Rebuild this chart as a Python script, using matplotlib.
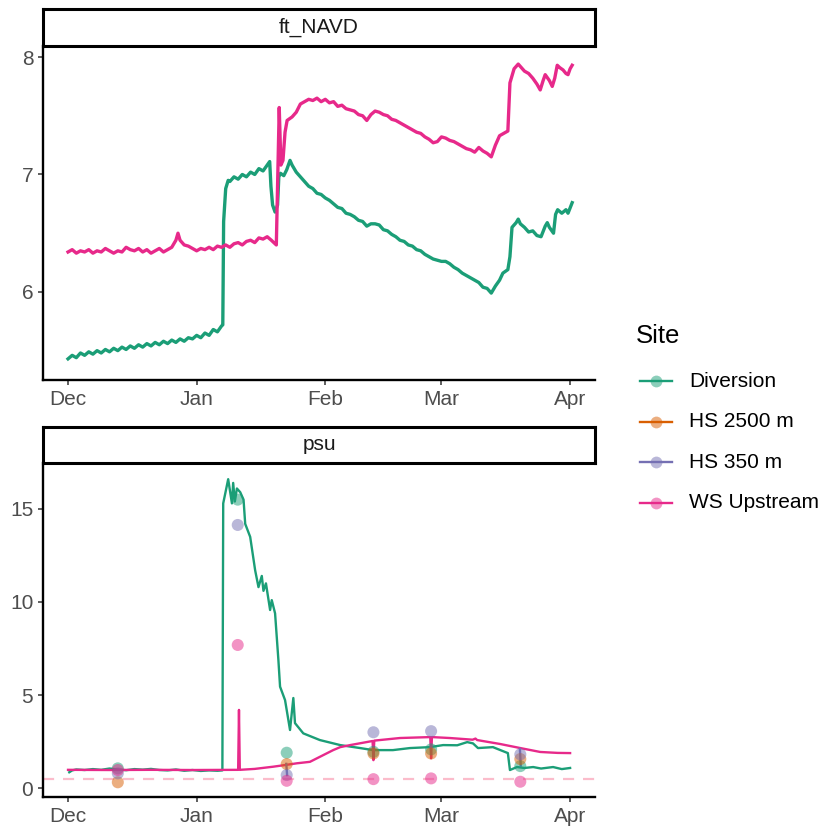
import numpy as np
import pandas as pd
import matplotlib
matplotlib.use('Agg')
import matplotlib.pyplot as plt
import matplotlib.dates as mdates
from matplotlib.lines import Line2D

plt.rcParams['font.family'] = ['Liberation Sans', 'DejaVu Sans']

start = pd.Timestamp('2021-12-01')

# ---- ft_NAVD, Diversion (days since Dec 1, value)
div_ft_day = [0, 1, 2, 3, 4, 5, 6, 7, 8, 9, 10, 11, 12, 13, 14, 15, 16, 17, 18, 19, 20,
              21, 22, 23, 24, 25, 26, 27, 28, 29, 30, 31, 32, 33, 34, 35, 36, 37, 37.3,
              37.5, 38, 38.6, 39, 40, 41, 42, 43, 44, 45, 46, 47, 48, 48.6, 48.9, 49.3,
              49.9, 50.5, 50.8, 51.2, 52, 52.7, 53.5, 54, 55, 56, 57, 58, 59, 60, 61, 62,
              63, 64, 65, 66, 67, 68, 69, 70, 71, 72, 73, 74, 75, 76, 77, 78, 79, 80, 81,
              82, 83, 84, 85, 86, 87, 88, 89, 90, 91, 92, 93, 94, 95, 96, 97, 98, 99, 100,
              101, 102, 103, 104, 104.8, 106, 106.5, 107, 108, 108.5, 109, 110, 111, 112,
              113, 114, 115, 115.5, 116, 117, 117.5, 118, 119, 120, 120.5, 121.5]
div_ft_val = [5.43, 5.46, 5.44, 5.48, 5.46, 5.49, 5.47, 5.50, 5.48, 5.51, 5.49, 5.52, 5.50,
              5.53, 5.51, 5.54, 5.52, 5.55, 5.53, 5.56, 5.54, 5.57, 5.55, 5.58, 5.56, 5.59,
              5.57, 5.60, 5.58, 5.61, 5.60, 5.63, 5.61, 5.65, 5.63, 5.68, 5.66, 5.71, 5.72,
              6.60, 6.88, 6.95, 6.94, 6.98, 6.96, 7.00, 6.98, 7.02, 7.00, 7.05, 7.03, 7.08,
              7.11, 6.90, 6.74, 6.68, 6.74, 6.98, 7.01, 6.99, 7.04, 7.12, 7.08, 7.02, 6.98,
              6.94, 6.90, 6.88, 6.84, 6.83, 6.80, 6.78, 6.75, 6.72, 6.71, 6.67, 6.66, 6.64,
              6.61, 6.60, 6.56, 6.58, 6.58, 6.57, 6.53, 6.52, 6.49, 6.47, 6.44, 6.43, 6.40,
              6.39, 6.36, 6.35, 6.32, 6.30, 6.28, 6.27, 6.26, 6.26, 6.24, 6.21, 6.19, 6.16,
              6.14, 6.12, 6.10, 6.08, 6.04, 6.03, 5.99, 6.05, 6.10, 6.16, 6.19, 6.30, 6.55,
              6.59, 6.62, 6.58, 6.55, 6.51, 6.52, 6.48, 6.47, 6.56, 6.59, 6.55, 6.50, 6.66,
              6.70, 6.67, 6.70, 6.67, 6.76]

# ---- ft_NAVD, WS Upstream
ws_ft_day = [0, 1, 2, 3, 4, 5, 6, 7, 8, 9, 10, 11, 12, 13, 14, 15, 16, 17, 18, 19, 20, 21,
             22, 23, 24, 25, 26, 26.5, 27, 28, 29, 30, 31, 32, 33, 34, 35, 36, 37, 38, 39,
             40, 41, 42, 43, 44, 45, 46, 47, 48, 49, 50.2, 50.6, 50.9, 51.3, 51.8, 52.3,
             52.8, 54, 55, 56, 57, 58, 59, 60, 61, 62, 63, 64, 65, 66, 67, 68, 69, 70, 71,
             72, 73, 74, 75, 76, 77, 78, 79, 80, 81, 82, 83, 84, 85, 86, 87, 88, 89, 90, 91,
             92, 93, 94, 95, 96, 97, 98, 99, 100, 101, 102, 103, 104, 105, 106, 106.5,
             107.5, 108.5, 109, 110, 111, 112, 113, 113.8, 114.5, 115, 116, 116.7, 117.3,
             117.9, 118.5, 119.3, 120, 120.5, 121, 121.5]
ws_ft_val = [6.34, 6.36, 6.33, 6.35, 6.34, 6.36, 6.33, 6.35, 6.34, 6.37, 6.35, 6.33, 6.35,
             6.34, 6.38, 6.36, 6.35, 6.37, 6.34, 6.36, 6.33, 6.35, 6.37, 6.34, 6.36, 6.38,
             6.44, 6.50, 6.44, 6.40, 6.39, 6.37, 6.35, 6.37, 6.36, 6.38, 6.36, 6.39, 6.38,
             6.40, 6.38, 6.41, 6.42, 6.40, 6.43, 6.44, 6.42, 6.46, 6.45, 6.47, 6.44, 6.40,
             7.05, 7.57, 7.08, 7.12, 7.36, 7.46, 7.49, 7.53, 7.60, 7.62, 7.64, 7.63, 7.65,
             7.62, 7.64, 7.61, 7.62, 7.58, 7.59, 7.56, 7.55, 7.54, 7.51, 7.50, 7.46, 7.51,
             7.54, 7.53, 7.51, 7.50, 7.47, 7.46, 7.44, 7.42, 7.40, 7.38, 7.36, 7.35, 7.32,
             7.30, 7.27, 7.28, 7.32, 7.31, 7.29, 7.28, 7.26, 7.24, 7.22, 7.21, 7.19, 7.23,
             7.20, 7.18, 7.15, 7.25, 7.33, 7.35, 7.37, 7.78, 7.90, 7.94, 7.92, 7.88, 7.86,
             7.82, 7.77, 7.72, 7.80, 7.85, 7.80, 7.75, 7.82, 7.93, 7.91, 7.89, 7.86, 7.85,
             7.90, 7.93]

# ---- psu, Diversion
div_psu_day = [0.3, 1, 2, 4, 6, 8, 10, 12, 14, 16, 18, 20, 22, 24, 26, 28, 30, 32, 34, 36,
               37.2, 37.4, 38.6, 39.5, 39.8, 40.2, 40.7, 41.5, 42.3, 42.7, 43.9, 45.1, 45.9,
               46.7, 47.1, 47.7, 48.7, 49.1, 49.9, 50.7, 51.1, 52.3, 53.1, 53.5, 54.3, 54.7,
               56.7, 60.7, 65.6, 70.4, 73.5, 78.3, 82.4, 87.2, 90.4, 93.8, 96.2, 97.6, 98.8,
               102.4, 106, 106.5, 108.2, 110, 112.1, 114, 116.9, 119, 121]
div_psu_val = [0.85, 0.95, 1.0, 0.97, 1.02, 0.98, 1.05, 1.0, 0.96, 1.02, 0.99, 1.03, 0.97,
               0.95, 1.0, 0.93, 0.97, 0.92, 0.95, 0.93, 0.95, 15.3, 16.6, 15.3, 16.4, 15.4,
               16.1, 15.9, 15.5, 14.2, 13.5, 11.7, 10.8, 11.4, 10.6, 11.0, 9.57, 10.1, 9.39,
               6.88, 5.45, 4.73, 3.66, 3.12, 4.84, 3.49, 2.94, 2.58, 2.31, 2.15, 2.04, 2.04,
               2.15, 2.2, 2.31, 2.3, 2.47, 2.4, 2.15, 2.2, 1.88, 0.97, 1.13, 1.08, 1.13, 1.05,
               1.13, 1.02, 1.08]

# ---- psu, WS Upstream
ws_psu_day = [0, 10, 20, 30, 41.0, 41.2, 41.4, 45, 49.5, 52.7, 55.1, 58.3, 61.5, 63.9,
              65.6, 68, 73.4, 73.6, 73.8, 80, 87.3, 87.5, 87.7, 92, 97.5, 98.2, 98.6, 104.1,
              109, 113.8, 118, 121]
ws_psu_val = [0.98, 0.97, 0.98, 0.97, 0.98, 4.2, 0.98, 1.03, 1.15, 1.25, 1.33, 1.41, 1.77,
              2.04, 2.2, 2.31, 2.53, 1.5, 2.55, 2.69, 2.74, 1.6, 2.74, 2.69, 2.60, 2.66,
              2.58, 2.37, 2.15, 1.94, 1.89, 1.88]

# ---- psu, HS 350 m short sonde records
hs350_psu_day = [52.6, 52.8, np.nan, 108.9, 109.1]
hs350_psu_val = [1.3, 0.7, np.nan, 2.1, 1.2]

# ---- psu, grab samples
sample_day = [12, 40.9, 52.7, 73.6, 87.5, 109]
samp_div = [1.06, 15.5, 1.9, 1.95, 2.08, 1.18]
samp_hs2500 = [0.31, np.nan, 1.29, 1.86, 1.86, 1.56]
samp_hs350 = [0.79, 14.14, 0.70, 3.0, 3.06, 1.81]
samp_ws = [0.97, 7.69, 0.39, 0.48, 0.52, 0.34]

psu_ref = 0.5

sites = ['Diversion', 'HS 2500 m', 'HS 350 m', 'WS Upstream']
colors = {'Diversion': '#1b9e77', 'HS 2500 m': '#d95f02',
          'HS 350 m': '#7570b3', 'WS Upstream': '#e7298a'}


def to_dates(days):
    return start + pd.to_timedelta(np.asarray(days, dtype=float), unit='D')


W, H = 820, 831
fig = plt.figure(figsize=(W / 100, H / 100), dpi=100)


def box(l, t, r, b):
    return [l / W, 1 - b / H, (r - l) / W, (b - t) / H]


def style_panel(ax):
    for s in ['top', 'right']:
        ax.spines[s].set_visible(False)
    for s in ['left', 'bottom']:
        ax.spines[s].set_linewidth(1.7)
        ax.spines[s].set_color('black')
    ax.tick_params(length=3.5, width=1.1, color='#333333', labelsize=15,
                   labelcolor='#4d4d4d', pad=3.5)
    ax.xaxis.set_major_locator(mdates.MonthLocator())
    ax.xaxis.set_major_formatter(mdates.DateFormatter('%b'))
    ax.set_xlim(to_dates([-6.03])[0], to_dates([127.0])[0])


def strip(rect, label):
    sa = fig.add_axes(rect)
    sa.set_xticks([])
    sa.set_yticks([])
    for s in sa.spines.values():
        s.set_linewidth(2.2)
        s.set_color('black')
    sa.text(0.5, 0.5, label, ha='center', va='center', fontsize=15, color='#1a1a1a',
            transform=sa.transAxes)


# top panel
ax1 = fig.add_axes(box(43, 46, 595, 380))
style_panel(ax1)
ax1.plot(to_dates(div_ft_day), div_ft_val, color=colors['Diversion'], lw=2.4)
ax1.plot(to_dates(ws_ft_day), ws_ft_val, color=colors['WS Upstream'], lw=2.4)
ax1.set_ylim(5.25, 8.094)
ax1.set_yticks([6, 7, 8])
strip(box(43, 9, 595, 46), 'ft_NAVD')

# bottom panel
ax2 = fig.add_axes(box(43, 463, 595, 797))
style_panel(ax2)
ax2.axhline(psu_ref, color='#fbbccb', lw=1.6, ls=(0, (5, 4)), zorder=1)
ax2.plot(to_dates(div_psu_day), div_psu_val, color=colors['Diversion'], lw=1.7, zorder=2)
ax2.plot(to_dates(ws_psu_day), ws_psu_val, color=colors['WS Upstream'], lw=1.7, zorder=2)
ax2.plot(to_dates(hs350_psu_day), hs350_psu_val, color=colors['HS 350 m'], lw=1.7, zorder=2)
for site, vals in zip(sites, [samp_div, samp_hs2500, samp_hs350, samp_ws]):
    ax2.scatter(to_dates(sample_day), vals, s=75, color=colors[site], alpha=0.5,
                edgecolors='none', zorder=3)
ax2.set_ylim(-0.48, 17.47)
ax2.set_yticks([0, 5, 10, 15])
strip(box(43, 427, 595, 463), 'psu')

# legend
fig.text(636 / W, 1 - 336 / H, 'Site', fontsize=18.5, va='center', ha='left', color='black')
for i, site in enumerate(sites):
    yc = 1 - (381 + i * 40.5) / H
    c = matplotlib.colors.to_rgb(colors[site])
    fig.add_artist(Line2D([640 / W, 672 / W], [yc, yc], color=c, lw=1.7,
                          transform=fig.transFigure))
    fig.add_artist(Line2D([656 / W], [yc], marker='o', ms=8.5, mfc=c + (0.5,),
                          mec='none', ls='none', transform=fig.transFigure))
    fig.text(689 / W, yc, site, fontsize=15, va='center', ha='left', color='black')

fig.savefig('out.png', dpi=100)
